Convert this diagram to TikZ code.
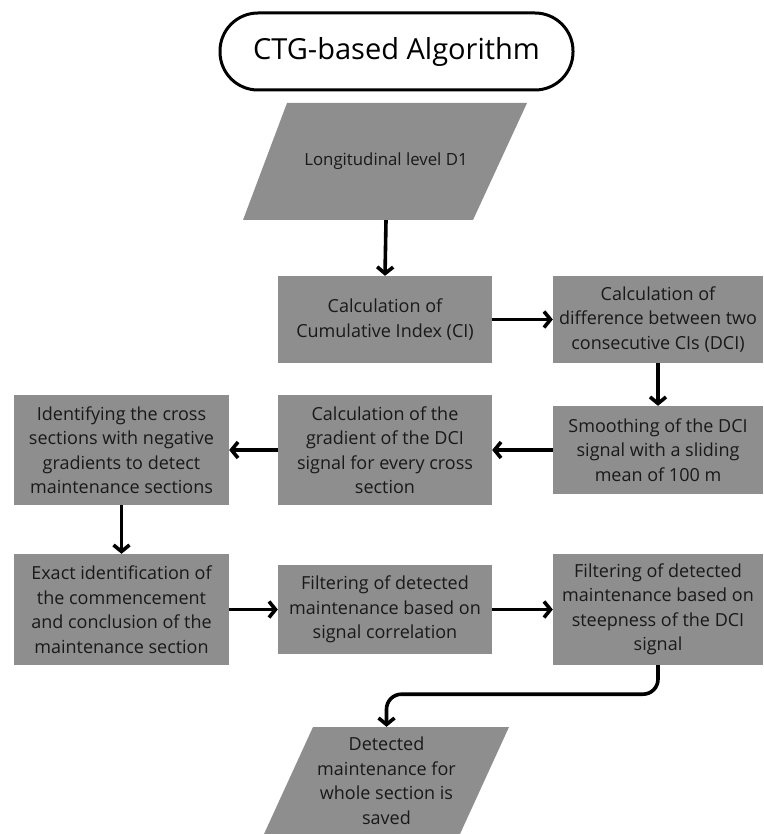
\documentclass[tikz,border=0pt]{standalone}
\usepackage{fontspec}
\setmainfont{Open Sans}
\usetikzlibrary{arrows.meta}
\definecolor{boxgray}{RGB}{142,142,142}
\definecolor{txt}{RGB}{25,25,25}
\tikzset{
  procbox/.style={rectangle, fill=boxgray, draw=none, align=center, inner sep=0pt,
    text=txt, font=\fontsize{18}{24.5}\selectfont},
  flowarrow/.style={line width=3.6pt, -{Straight Barb[length=6.5pt,width=16pt,line width=3.6pt]}},
  ghost/.style={rectangle, draw=none, inner sep=0pt, align=center, text=txt}
}
\begin{document}
\begin{tikzpicture}[x=1pt,y=-1pt]
\useasboundingbox (0,0) rectangle (763,834);
% title
\node[rectangle, rounded corners=38pt, draw=black, line width=3pt, minimum width=353pt,
  minimum height=77pt, font=\fontsize{29}{34}\selectfont] (title) at (396.5,51.5) {CTG-based Algorithm};
% input parallelogram
\fill[boxgray] (287,103) -- (527,103) -- (473,220) -- (243,220) -- cycle;
\node[ghost, minimum width=200pt, minimum height=117pt, font=\fontsize{16.8}{20}\selectfont] (d1) at (386,161.5) {Longitudinal level D1};
% process boxes
\node[procbox, minimum width=214pt, minimum height=87pt] (ci) at (385,319.5) {Calculation of\\Cumulative Index (CI)};
\node[procbox, minimum width=210pt, minimum height=87pt] (dci) at (658,319.5) {Calculation of\\difference between two\\consecutive CIs (DCI)};
\node[procbox, minimum width=210pt, minimum height=88pt] (smooth) at (658,450) {Smoothing of the DCI\\signal with a sliding\\mean of 100 m};
\node[procbox, minimum width=214pt, minimum height=110pt] (grad) at (385,450) {Calculation of the\\gradient of the DCI\\signal for every cross\\section};
\node[procbox, minimum width=215pt, minimum height=110pt] (ident) at (121.5,450) {Identifying the cross\\sections with negative\\gradients to detect\\maintenance sections};
\node[procbox, minimum width=215pt, minimum height=111pt] (exact) at (121.5,609.5) {Exact identification of\\the commencement\\and conclusion of the\\maintenance section};
\node[procbox, minimum width=214pt, minimum height=89pt] (fcorr) at (385,609.5) {Filtering of detected\\maintenance based on\\signal correlation};
\node[procbox, minimum width=210pt, minimum height=111pt] (steep) at (658,609.5) {Filtering of detected\\maintenance based on\\steepness of the DCI\\signal};
% output parallelogram
\fill[boxgray] (313,727) -- (509,727) -- (460,834) -- (264,834) -- cycle;
\node[ghost, minimum width=150pt, minimum height=107pt, font=\fontsize{18}{24.5}\selectfont] (fin) at (386.5,780.5) {Detected\\maintenance for\\whole section is\\saved};
% connectors
\draw[flowarrow] (d1.south) -- (ci.north);
\draw[flowarrow] (ci.east) -- (dci.west);
\draw[flowarrow] (dci.south) -- (smooth.north);
\draw[flowarrow] (smooth.west) -- (grad.east);
\draw[flowarrow] (grad.west) -- (ident.east);
\draw[flowarrow] (ident.south) -- (exact.north);
\draw[flowarrow] (exact.east) -- (fcorr.west);
\draw[flowarrow] (fcorr.east) -- (steep.west);
\draw[flowarrow, rounded corners=15pt] (steep.south) -- ++(0,29) -| (fin.north);
\end{tikzpicture}
\end{document}
